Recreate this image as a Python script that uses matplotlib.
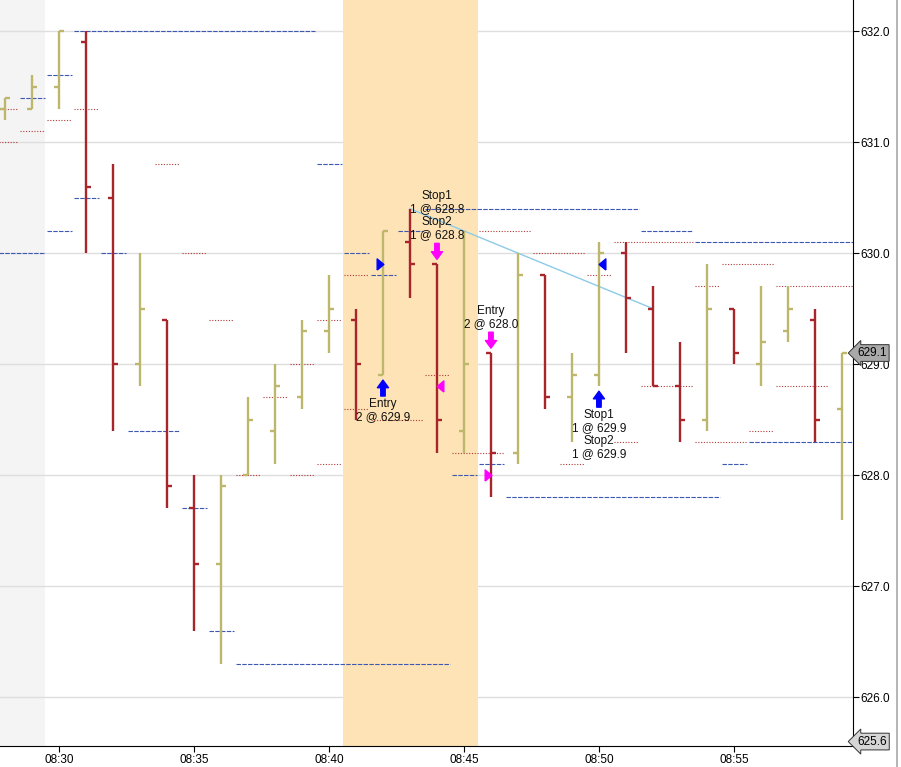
import numpy as np
import matplotlib.pyplot as plt
from matplotlib.lines import Line2D

plt.rcParams['font.family'] = ['Liberation Sans', 'DejaVu Sans']

# one-minute bars
times = ['08:28', '08:29', '08:30', '08:31', '08:32', '08:33', '08:34', '08:35',
         '08:36', '08:37', '08:38', '08:39', '08:40', '08:41', '08:42', '08:43',
         '08:44', '08:45', '08:46', '08:47', '08:48', '08:49', '08:50', '08:51',
         '08:52', '08:53', '08:54', '08:55', '08:56', '08:57', '08:58', '08:59']
opens = [631.3, 631.3, 631.5, 631.9, 630.5, 629.0, 629.4, 627.7,
         627.2, 628.0, 628.4, 628.7, 629.3, 629.4, 628.9, 630.1,
         629.9, 628.4, 629.1, 628.2, 629.8, 628.7, 628.9, 630.0,
         629.5, 628.8, 628.5, 629.5, 629.0, 629.3, 629.4, 628.6]
highs = [631.4, 631.6, 632.0, 632.0, 630.8, 630.0, 629.4, 628.0,
         628.0, 628.7, 629.0, 629.4, 629.8, 629.5, 630.2, 630.4,
         629.9, 630.2, 629.1, 630.0, 629.8, 629.1, 630.1, 630.1,
         629.7, 629.2, 629.9, 629.5, 629.7, 629.7, 629.5, 629.1]
lows = [631.2, 631.3, 631.3, 630.0, 628.4, 628.8, 627.7, 626.6,
        626.3, 628.0, 628.1, 628.6, 629.1, 628.5, 628.9, 629.6,
        628.2, 628.2, 627.8, 628.1, 628.6, 628.3, 628.8, 629.1,
        628.8, 628.3, 628.4, 629.0, 628.8, 629.2, 628.3, 627.6]
closes = [631.4, 631.5, 632.0, 630.6, 629.0, 629.5, 627.9, 627.2,
          627.9, 628.5, 628.8, 629.3, 629.5, 629.0, 630.2, 629.9,
          628.5, 629.0, 628.2, 629.8, 628.7, 628.9, 630.0, 629.6,
          628.8, 628.5, 629.5, 629.1, 629.2, 629.5, 628.5, 629.1]

# level lines: (first bar, last bar, price)
blue_levels = [
    ('08:28', '08:29', 631.4), ('08:29', '08:30', 631.6), ('08:30', '08:39', 632.0),
    ('08:29', '08:30', 630.2), ('08:27', '08:29', 630.0), ('08:30', '08:31', 630.5),
    ('08:31', '08:32', 630.0), ('08:32', '08:34', 628.4), ('08:34', '08:35', 627.7),
    ('08:35', '08:36', 626.6), ('08:36', '08:44', 626.3), ('08:39', '08:40', 630.8),
    ('08:40', '08:41', 630.0), ('08:41', '08:42', 629.8), ('08:42', '08:43', 630.2),
    ('08:43', '08:51', 630.4), ('08:44', '08:45', 628.0), ('08:45', '08:46', 628.1),
    ('08:46', '08:54', 627.8), ('08:51', '08:53', 630.2), ('08:53', '09:00', 630.1),
    ('08:54', '08:55', 628.1), ('08:55', '09:00', 628.3),
]
red_levels = [
    ('08:27', '08:28', 631.3), ('08:27', '08:28', 631.0), ('08:28', '08:29', 631.1),
    ('08:29', '08:30', 631.2), ('08:30', '08:31', 631.3), ('08:33', '08:34', 630.8),
    ('08:34', '08:35', 630.0), ('08:35', '08:36', 629.4), ('08:36', '08:37', 628.0),
    ('08:37', '08:38', 628.7), ('08:38', '08:39', 629.0), ('08:38', '08:39', 628.0),
    ('08:39', '08:40', 629.4), ('08:39', '08:40', 628.1), ('08:40', '08:41', 629.8),
    ('08:40', '08:41', 628.6), ('08:41', '08:43', 628.5), ('08:43', '08:44', 628.9),
    ('08:44', '08:46', 628.2), ('08:45', '08:47', 630.2), ('08:47', '08:49', 630.0),
    ('08:48', '08:49', 628.1), ('08:49', '08:50', 629.8), ('08:50', '08:51', 628.3),
    ('08:50', '08:53', 630.1), ('08:51', '08:53', 628.8), ('08:53', '08:54', 629.7),
    ('08:53', '08:55', 628.3), ('08:54', '08:56', 629.9), ('08:55', '08:56', 628.4),
    ('08:56', '09:00', 629.7), ('08:56', '08:58', 628.8),
]

trend_times = ['08:43', '08:52']
trend_prices = [630.4, 629.5]

# orders: (bar, side, label)
orders = [
    ('08:42', 'buy', 'Entry\n2 @ 629.9'),
    ('08:44', 'sell', 'Stop1\n1 @ 628.8\nStop2\n1 @ 628.8'),
    ('08:46', 'sell', 'Entry\n2 @ 628.0'),
    ('08:50', 'buy', 'Stop1\n1 @ 629.9\nStop2\n1 @ 629.9'),
]
# fills: (bar, price, colour, marker side)
fills = [
    ('08:42', 629.9, 'blue', 'left'),
    ('08:44', 628.8, 'magenta', 'right'),
    ('08:46', 628.0, 'magenta', 'left'),
    ('08:50', 629.9, 'blue', 'right'),
]

price_ticks = [626.0, 627.0, 628.0, 629.0, 630.0, 631.0, 632.0]
time_ticks = ['08:30', '08:35', '08:40', '08:45', '08:50', '08:55']
last_price = 629.1
low_price = 625.6

UP_COL = '#bdb76b'
DN_COL = '#a8262b'
BLUE_LVL = '#3c58b0'
RED_LVL = '#b23a3a'


def to_min(s):
    h, m = s.split(':')
    return int(h) * 60 + int(m)


fig = plt.figure(figsize=(9.01, 7.67), dpi=100)
ax = fig.add_axes([0, 21 / 767, 853 / 901, 746 / 767])

x0 = to_min('08:30')
ax.set_xlim(x0 - 2.185, x0 + 29.41)
ax.set_ylim(625.56, 632.28)

# background shading
ax.axvspan(x0 - 5, to_min('08:29') + 0.5, color='#f4f4f4', zorder=0.5, lw=0)
ax.axvspan(to_min('08:40') + 0.52, to_min('08:45') + 0.52, color='#fde3b6', zorder=1.5, lw=0)
for p in price_ticks:
    ax.axhline(p, color='#dedede', lw=1, zorder=1)

for a, b, p in blue_levels:
    ax.plot([to_min(a) + 0.55, to_min(b) + 0.48], [p, p], color=BLUE_LVL,
            lw=0.8, ls=(0, (4, 1.2)), zorder=2)
for a, b, p in red_levels:
    ax.plot([to_min(a) + 0.55, to_min(b) + 0.48], [p, p], color=RED_LVL,
            lw=0.8, ls=(0, (1, 1.5)), zorder=2)

ax.plot([to_min(t) for t in trend_times], trend_prices, color='#8ccbe8', lw=1, zorder=2.5)

tk = 0.17
for t, o, h, l, c in zip(times, opens, highs, lows, closes):
    x = to_min(t)
    col = UP_COL if c >= o else DN_COL
    ax.plot([x, x], [l, h], color=col, lw=1.7, solid_capstyle='butt', zorder=3)
    ax.plot([x - tk, x], [o, o], color=col, lw=1.7, solid_capstyle='butt', zorder=3)
    ax.plot([x, x + tk], [c, c], color=col, lw=1.7, solid_capstyle='butt', zorder=3)

hi = dict(zip(times, highs))
lo = dict(zip(times, lows))
for t, side, label in orders:
    x = to_min(t)
    col = 'blue' if side == 'buy' else 'magenta'
    sgn = -1 if side == 'buy' else 1
    y = lo[t] if side == 'buy' else hi[t]
    ax.annotate('', xy=(x, y), xytext=(0, sgn * 15), textcoords='offset points',
                arrowprops=dict(arrowstyle='simple,head_length=0.55,head_width=0.8,tail_width=0.32',
                                color=col, shrinkA=0, shrinkB=3.5, mutation_scale=10),
                zorder=4)
    ax.annotate(label, xy=(x, y), xytext=(0, sgn * 16.5), textcoords='offset points',
                ha='center', va='top' if side == 'buy' else 'bottom', fontsize=8.5,
                linespacing=1.12, color='#111111', zorder=5)

tri_right = [(-0.6, -1), (0.6, 0), (-0.6, 1), (-0.6, -1)]
tri_left = [(0.6, -1), (-0.6, 0), (0.6, 1), (0.6, -1)]
for t, p, col, where in fills:
    x = to_min(t)
    if where == 'left':
        ax.plot(x - 0.1, p, marker=tri_right, color=col, ms=8, lw=0, zorder=4)
    else:
        ax.plot(x + 0.12, p, marker=tri_left, color=col, ms=8, lw=0, zorder=4)

# axes styling
for s in ['top', 'left']:
    ax.spines[s].set_visible(False)
ax.spines['right'].set_color('black')
ax.spines['bottom'].set_color('black')
ax.yaxis.tick_right()
ax.set_yticks(price_ticks)
ax.set_yticklabels(['%.1f' % p for p in price_ticks])
ax.tick_params(axis='y', length=4, pad=1, labelsize=8.5, colors='black')
ax.set_xticks([to_min(t) for t in time_ticks])
ax.set_xticklabels(time_ticks)
ax.tick_params(axis='x', length=4.5, pad=1.5, labelsize=8.5, colors='black')

# price tags on the axis
ax.text(1.005, last_price, '%.1f' % last_price, transform=ax.get_yaxis_transform(),
        ha='left', va='center', fontsize=8.5, zorder=6, clip_on=False,
        bbox=dict(boxstyle='larrow,pad=0.2', fc='#a9a9a9', ec='#333333', lw=0.7))
ax.text(1.005, low_price, '%.1f' % low_price, transform=ax.get_yaxis_transform(),
        ha='left', va='center', fontsize=8.5, zorder=6, clip_on=False,
        bbox=dict(boxstyle='larrow,pad=0.2', fc='#d6d6d6', ec='#333333', lw=0.7))

fig.add_artist(Line2D([897 / 901, 897 / 901], [0, 1], color='#a8a8a8', lw=1.2))

fig.savefig('out.png', dpi=100)
